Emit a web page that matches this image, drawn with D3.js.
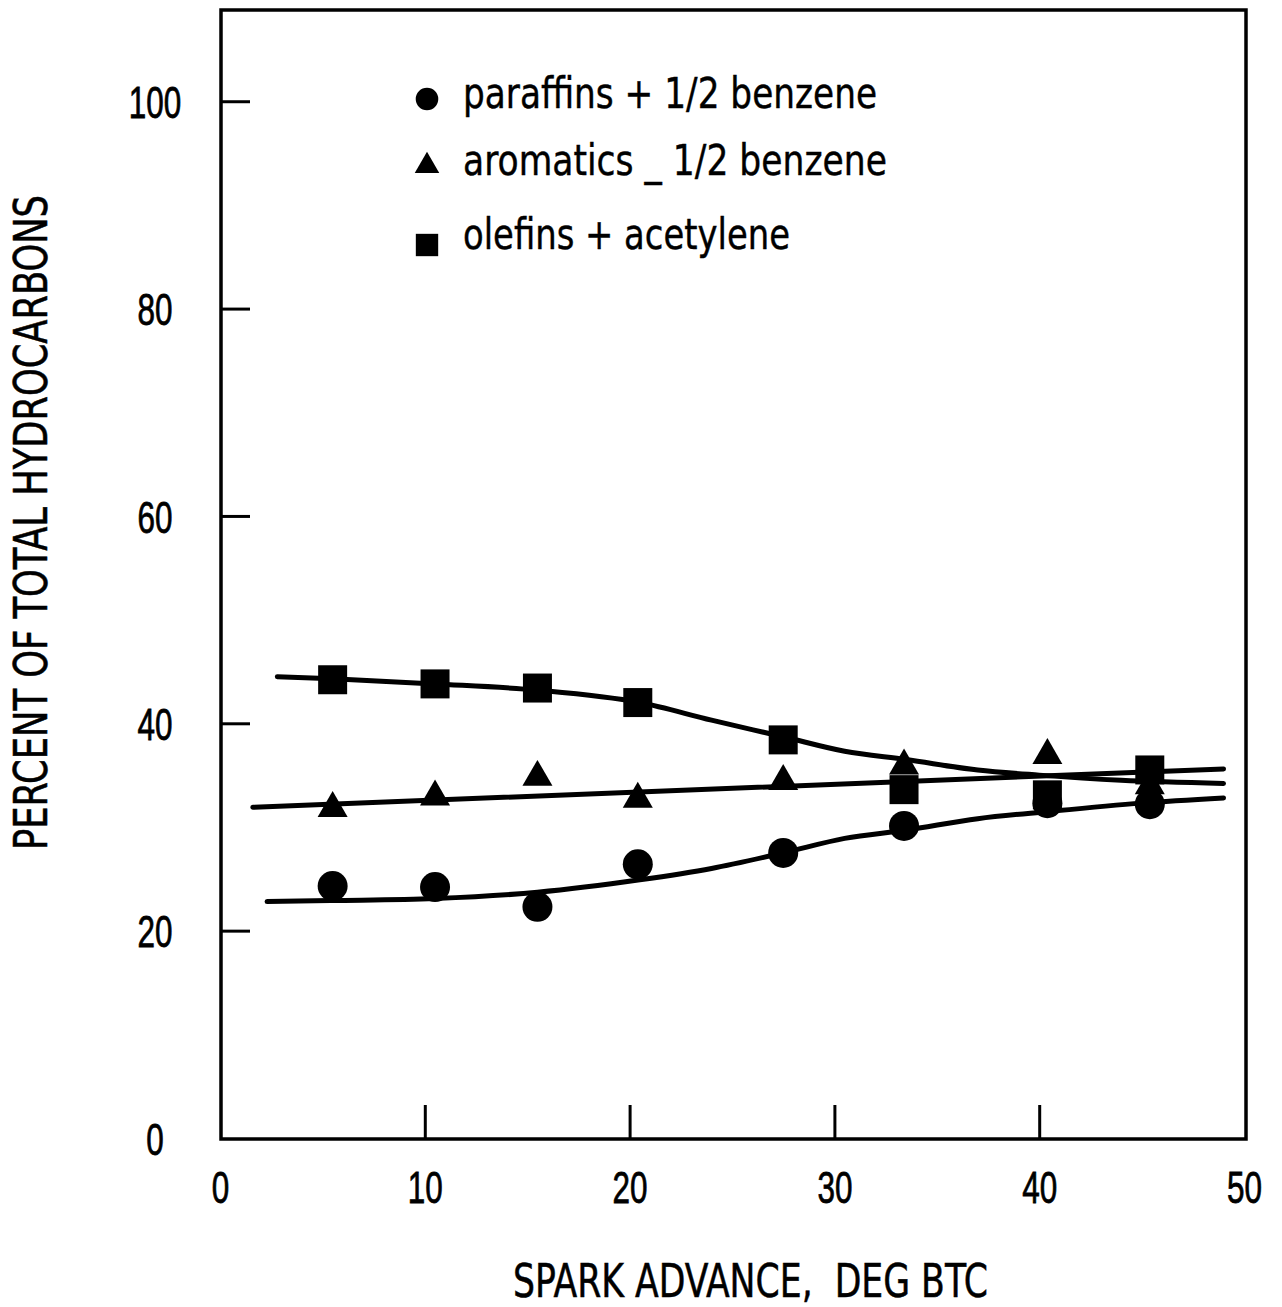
<!DOCTYPE html>
<meta charset="utf-8">
<style>
body { margin: 0; background: #fff; }
svg { font-family: "Liberation Sans Narrow", "DejaVu Sans Condensed", sans-serif; }
</style>
<svg width="1282" height="1307"></svg>
<script src="https://cdn.jsdelivr.net/npm/d3@7"></script>
<script>
// measured points (spark advance, deg BTC -> percent of total HC)
var sparkAdvance = [5.5, 10.5, 15.5, 20.4, 27.5, 33.4, 40.4, 45.4];
var paraffins = [24.3, 24.2, 22.3, 26.4, 27.5, 30.1, 32.3, 32.2];
var aromatics = [31.8, 32.9, 34.8, 32.7, 34.4, 35.9, 36.9, 34.0];
var olefins = [44.2, 43.8, 43.4, 42.0, 38.4, 33.6, 33.1, 35.5];

// faired curves
var paraffinsFitX = [2.3, 5.5, 10.5, 15.5, 20.5, 24, 27.5, 30.5, 33.5, 37, 40.5, 45, 49];
var paraffinsFitY = [22.8, 22.9, 23.1, 23.7, 24.9, 26.0, 27.5, 28.9, 29.7, 30.8, 31.5, 32.3, 32.8];
var aromaticsFitX = [1.6, 49];
var aromaticsFitY = [31.9, 35.6];
var olefinsFitX = [2.8, 5.5, 10.5, 15.5, 20.5, 24, 27.5, 30.5, 33.5, 37, 40, 44, 49];
var olefinsFitY = [44.5, 44.3, 43.8, 43.2, 42.0, 40.3, 38.7, 37.3, 36.5, 35.5, 35.0, 34.5, 34.2];

var xTicks = [0, 10, 20, 30, 40, 50];
var yTicks = [0, 20, 40, 60, 80, 100];
var legendLabels = ["paraffins + 1/2 benzene", "aromatics _ 1/2 benzene", "olefins + acetylene"];

var svg = d3.select("svg");

// plot frame edges (note: "top" is reserved on window, so prefixed names)
var fLeft = 221, fRight = 1246, fTop = 10, fBottom = 1139;

var x = d3.scaleLinear().domain([0, 50]).range([220, 1244]);
var y = d3.scaleLinear().domain([0, 108.8]).range([1138, 10]);

// frame
svg.append("rect")
    .attr("x", fLeft).attr("y", fTop)
    .attr("width", fRight - fLeft).attr("height", fBottom - fTop)
    .attr("fill", "none").attr("stroke", "#000").attr("stroke-width", 3.5);

// y axis
var gy = svg.append("g")
    .attr("transform", "translate(" + fLeft + ",0)")
    .call(d3.axisLeft(y).tickValues(yTicks).tickSizeInner(-29).tickSizeOuter(0));
gy.select(".domain").remove();
gy.selectAll(".tick line").attr("stroke-width", 3)
    .filter(function(d) { return d == 0; }).remove();
gy.selectAll(".tick text")
    .attr("x", 155 - fLeft)
    .attr("dy", "0.36em")
    .attr("text-anchor", "middle")
    .attr("font-size", 45)
    .attr("font-family", null)
    .attr("fill", "#000")
    .attr("stroke", "#000").attr("stroke-width", 0.8)
    .attr("textLength", function(d) { return String(d).length * 17.5; })
    .attr("lengthAdjust", "spacingAndGlyphs");

// x axis
var gx = svg.append("g")
    .attr("transform", "translate(0," + fBottom + ")")
    .call(d3.axisBottom(x).tickValues(xTicks).tickSizeInner(-34).tickSizeOuter(0));
gx.select(".domain").remove();
gx.selectAll(".tick line").attr("stroke-width", 3)
    .filter(function(d) { return d == 0 || d == 50; }).remove();
gx.selectAll(".tick text")
    .attr("y", 48)
    .attr("dy", "0.36em")
    .attr("font-size", 45)
    .attr("font-family", null)
    .attr("fill", "#000")
    .attr("stroke", "#000").attr("stroke-width", 0.8)
    .attr("textLength", function(d) { return String(d).length * 17.5; })
    .attr("lengthAdjust", "spacingAndGlyphs");

// axis titles
svg.append("text")
    .attr("x", 513).attr("y", 1297)
    .attr("font-size", 47)
    .attr("stroke", "#000").attr("stroke-width", 0.5)
    .style("white-space", "pre")
    .attr("textLength", 475)
    .attr("lengthAdjust", "spacingAndGlyphs")
    .text("SPARK ADVANCE,  DEG BTC");

svg.append("text")
    .attr("transform", "translate(47,850) rotate(-90)")
    .attr("font-size", 47)
    .attr("stroke", "#000").attr("stroke-width", 0.5)
    .attr("textLength", 655)
    .attr("lengthAdjust", "spacingAndGlyphs")
    .text("PERCENT OF TOTAL HYDROCARBONS");

// curves
var line = d3.line()
    .x(function(d) { return x(d[0]); })
    .y(function(d) { return y(d[1]); })
    .curve(d3.curveMonotoneX);

[[paraffinsFitX, paraffinsFitY], [aromaticsFitX, aromaticsFitY], [olefinsFitX, olefinsFitY]].forEach(function(c) {
  svg.append("path")
      .datum(d3.zip(c[0], c[1]))
      .attr("d", line)
      .attr("fill", "none")
      .attr("stroke", "#000")
      .attr("stroke-width", 5)
      .attr("stroke-linecap", "round");
});

// markers
var series = [
  { values: aromatics, type: d3.symbolTriangle, size: 390, legendSize: 260 },
  { values: paraffins, type: d3.symbolCircle, size: 707, legendSize: 400 },
  { values: olefins, type: d3.symbolSquare, size: 841, legendSize: 500 }
];

series.forEach(function(s) {
  svg.append("g").selectAll("path")
    .data(d3.zip(sparkAdvance, s.values))
    .enter().append("path")
      .attr("transform", function(d) { return "translate(" + x(d[0]) + "," + y(d[1]) + ")"; })
      .attr("d", d3.symbol().type(s.type).size(s.size))
      .attr("fill", "#000");
});

// legend
var legendY = [99, 166, 245];
var legendBase = [108, 175, 249];
var legendWidth = [414, 424, 327];
var legendSym = [series[1], series[0], series[2]];

var lg = svg.append("g");
legendLabels.forEach(function(label, i) {
  lg.append("path")
      .attr("transform", "translate(427," + legendY[i] + ")")
      .attr("d", d3.symbol().type(legendSym[i].type).size(legendSym[i].legendSize))
      .attr("fill", "#000");
  lg.append("text")
      .attr("x", 463).attr("y", legendBase[i])
      .attr("font-size", 43)
      .attr("stroke", "#000").attr("stroke-width", 0.4)
      .attr("textLength", legendWidth[i])
      .attr("lengthAdjust", "spacingAndGlyphs")
      .text(label);
});
</script>
